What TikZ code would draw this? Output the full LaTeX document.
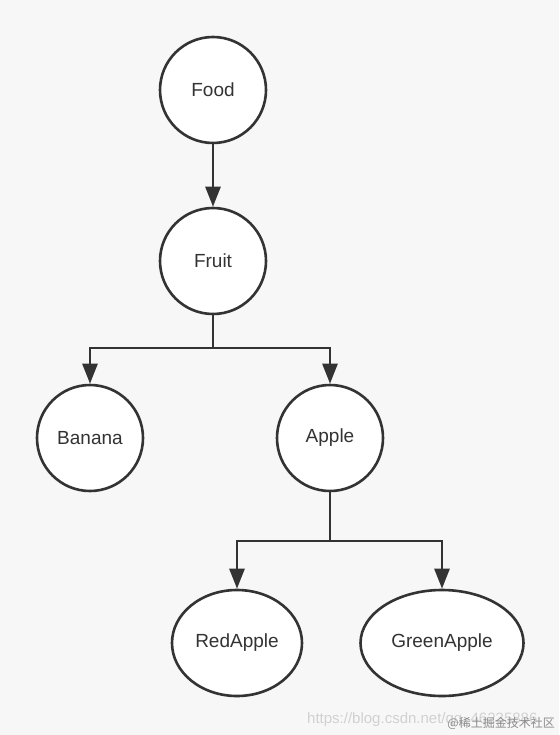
\documentclass[tikz,border=0pt]{standalone}
\usepackage{fontspec}
\setmainfont{Liberation Sans}
\newfontfamily\cjk{Noto Sans CJK SC}
\usetikzlibrary{arrows.meta,shapes.geometric}
\definecolor{bgcol}{HTML}{F7F7F7}
\definecolor{inkcol}{HTML}{333333}
\begin{document}
\begin{tikzpicture}[x=1pt,y=-1pt,
	item/.style={circle,draw=inkcol,line width=2.6pt,fill=white,minimum size=106pt,inner sep=0pt,font=\fontsize{19}{21}\selectfont,text=inkcol},
	oval/.style={ellipse,draw=inkcol,line width=2.6pt,fill=white,inner sep=0pt,font=\fontsize{19}{21}\selectfont,text=inkcol},
	link/.style={draw=inkcol,line width=2.6pt},
	arr/.style={link,-{Triangle[length=20pt,width=15pt]}}]
	\useasboundingbox[fill=bgcol] (0,0) rectangle (559,735);
	% nodes
	\node[item] (food) at (213,90) {Food};
	\node[item] (fruit) at (213,261) {Fruit};
	\node[item] (banana) at (90,438) {Banana};
	\node[item] (apple) at (330,438) {Apple};
	\node[oval,minimum width=130pt,minimum height=106pt] (red) at (237,643) {RedApple};
	\node[oval,minimum width=163pt,minimum height=106pt] (green) at (442,643) {GreenApple};
	% links
	\draw[arr] (food) -- (fruit);
	\coordinate (fsplit) at (213,348);
	\draw[link] (fruit) -- (fsplit);
	\draw[arr] (fsplit) -| (banana);
	\draw[arr] (fsplit) -| (apple);
	\coordinate (asplit) at (330,541);
	\draw[link] (apple) -- (asplit);
	\draw[arr] (asplit) -| (red);
	\draw[arr] (asplit) -| (green);
	% watermark
	\node[anchor=base west,text=black!18,font=\fontsize{15}{17}\selectfont,inner sep=0pt] (url) at (307,723) {https://blog.csdn.net/qq\_46235886};
	\node[anchor=east,text=black!45,font=\cjk\fontsize{12}{14}\selectfont,inner sep=0pt] (mark) at (555,723) {@稀土掘金技术社区};
\end{tikzpicture}
\end{document}
